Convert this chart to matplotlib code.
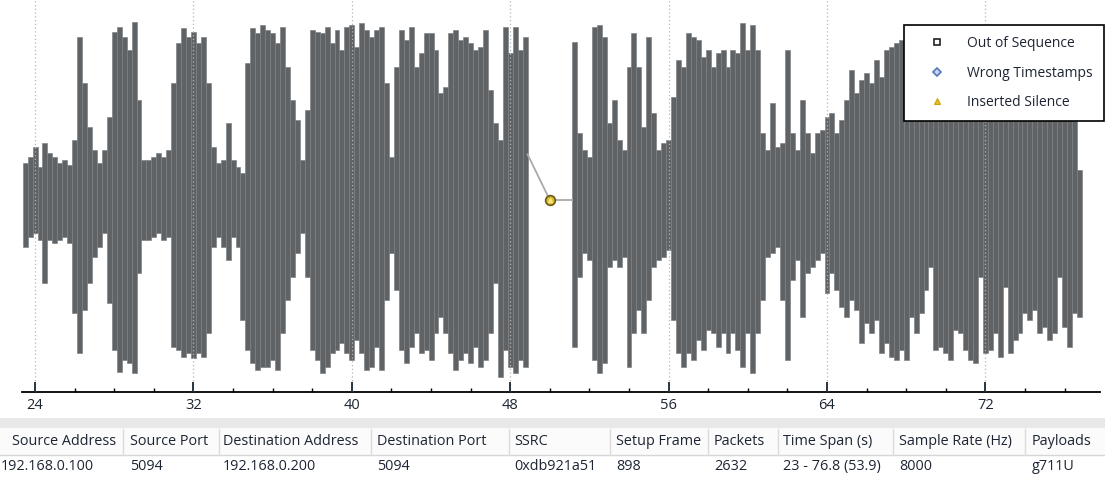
import matplotlib
matplotlib.use("Agg")
import matplotlib.pyplot as plt
from matplotlib.lines import Line2D
from matplotlib.patches import Rectangle
import numpy as np

plt.rcParams['font.family'] = ['Open Sans', 'DejaVu Sans']

# waveform envelope, one value every 0.25 s (amplitude above / below centre)
step = 0.25
seg1_start = 23.5
seg1_top = [37, 43, 53, 33, 57, 47, 43, 37, 40, 35,
            60, 163, 117, 73, 50, 37, 50, 83, 168, 173,
            163, 150, 178, 100, 40, 40, 43, 47, 43, 50,
            117, 157, 172, 163, 168, 157,
            163, 117, 53, 37, 40, 77, 40, 33, 27, 137,
            172, 167, 175, 170, 167, 157, 173, 133, 100, 80,
            40, 90, 170, 168, 167, 173, 157, 170, 150, 173,
            175, 153, 177, 170, 163,
            170, 173, 117, 43, 133, 170, 160, 173, 133, 147,
            167, 167, 150, 107, 113, 167, 170, 160, 163, 157,
            150, 153, 170, 110, 77, 60, 173, 147, 173, 150,
            163]
seg1_bottom = [47, 37, 33, 40, 83, 40, 43, 40, 37, 43,
               113, 153, 110, 83, 57, 47, 33, 103, 150, 172,
               160, 163, 173, 73, 40, 40, 37, 33, 40, 37,
               147, 150, 157, 153, 158, 153,
               157, 133, 47, 37, 47, 60, 37, 47, 120, 150,
               163, 170, 167, 167, 160, 170, 133, 100, 77, 53,
               33, 77, 150, 160, 173, 167, 153, 150, 143, 153,
               160, 140, 153, 170, 167,
               147, 170, 100, 53, 90, 150, 163, 147, 133, 153,
               150, 160, 133, 117, 133, 153, 170, 160, 153, 163,
               147, 167, 160, 133, 83, 177, 150, 167, 173, 160,
               167]

seg2_start = 51.25
seg2_top = [158, 67, 50, 43, 173, 175, 163, 77, 100, 60,
            50, 133, 167, 133, 73, 163, 87, 50, 57, 60,
            103, 140, 133, 167, 163, 160, 143, 150, 133, 147,
            150, 133, 150, 147,
            177, 150, 175, 150, 67, 50, 97, 53, 57, 150,
            67, 50, 100, 67, 47, 67, 70, 83, 87, 67,
            80, 100, 130, 107, 120, 127, 117, 140, 123, 150,
            153, 157, 160, 150,
            150, 160, 145, 170, 155, 165, 150, 175, 160, 170,
            150, 165, 155, 160, 150, 165, 175, 170, 160, 155,
            165, 150, 160, 145, 155, 150, 160, 140, 150, 145,
            155, 140, 135, 130, 30]
seg2_bottom = [147, 77, 53, 60, 160, 173, 163, 67, 60, 67,
               57, 167, 133, 110, 133, 100, 67, 60, 57, 50,
               120, 153, 167, 153, 160, 140, 150, 130, 133, 147,
               133, 153, 133, 150,
               167, 133, 173, 133, 100, 57, 53, 47, 100, 160,
               80, 60, 117, 73, 67, 60, 53, 93, 73, 90,
               107, 117, 100, 110, 143, 123, 133, 120, 153, 143,
               157, 160, 150, 160,
               117, 133, 113, 90, 67, 150, 147, 153, 160, 130,
               133, 150, 160, 163, 77, 153, 150, 133, 157, 87,
               153, 140, 133, 113, 120, 110, 133, 127, 140, 133,
               77, 127, 147, 113, 117]

silence_t = 50.0
major_ticks = [24, 32, 40, 48, 56, 64, 72]

legend_labels = ["Out of Sequence", "Wrong Timestamps", "Inserted Silence"]

columns = ["Source Address", "Source Port", "Destination Address", "Destination Port",
           "SSRC", "Setup Frame", "Packets", "Time Span (s)", "Sample Rate (Hz)", "Payloads"]
row = ["192.168.0.100", "5094", "192.168.0.200", "5094", "0xdb921a51",
       "898", "2632", "23 - 76.8 (53.9)", "8000", "g711U"]

W, H = 1105, 482
fig = plt.figure(figsize=(W / 100, H / 100), dpi=100)
ax = fig.add_axes([22 / W, (H - 392) / H, (1100 - 22) / W, 392 / H])

wave = '#5f6365'
for start, top, bot in [(seg1_start, seg1_top, seg1_bottom),
                        (seg2_start, seg2_top, seg2_bottom)]:
    top = np.array(top)
    bot = np.array(bot)
    t = start + step * np.arange(len(top))
    ax.bar(t, top + bot, bottom=-bot, width=step, color=wave,
           edgecolor='#7c8083', linewidth=0.45)

# inserted silence
seg1_end = seg1_start + step * (len(seg1_top) - 0.5)
seg2_begin = seg2_start - step / 2
ax.plot([seg1_end, silence_t, seg2_begin], [seg1_top[-1] * 0.28, 0, 0],
        color='#aaaaaa', lw=1.3, zorder=1.5)
ax.plot(silence_t, 0, marker='o', ms=7, mfc='#d9b82c', mec='#6b5a14', mew=1.2, zorder=4)
ax.plot(silence_t, 0, marker='^', ms=3, mfc='#f4e27a', mec='#f4e27a', zorder=5)

ax.set_xlim(23.34, 77.79)
ax.set_ylim(-192, 200)
ax.set_yticks([])
for s in ['top', 'left', 'right']:
    ax.spines[s].set_visible(False)
ax.spines['bottom'].set_linewidth(1.3)
ax.set_xticks(major_ticks)
ax.set_xticks(np.arange(24, 78, 2), minor=True)
ax.tick_params(axis='x', which='major', direction='in', length=7, width=1.3,
               labelsize=10.5, pad=4, colors='#1d2433')
ax.tick_params(axis='x', which='minor', direction='in', length=3, width=1)
ax.grid(axis='x', which='major', linestyle=(0, (1, 2)), color='#b5b5b5', lw=0.9)
ax.set_axisbelow(False)

handles = [
    Line2D([], [], ls='none', marker='s', ms=5, mfc='white', mec='#222222', mew=1.2),
    Line2D([], [], ls='none', marker='D', ms=4.5, mfc='#c9d6ee', mec='#5577bb', mew=1.2),
    Line2D([], [], ls='none', marker='^', ms=5, mfc='#e2c024', mec='#c9a50f', mew=0.8),
]
leg = ax.legend(handles, legend_labels, loc='upper left',
                bbox_to_anchor=(904 / W, 1 - 25 / H), bbox_transform=fig.transFigure,
                frameon=True, fancybox=False, edgecolor='black', framealpha=1,
                fontsize=10, borderpad=0.8, labelspacing=1.05, handlelength=3.1,
                handletextpad=0.65, borderaxespad=0)
leg.get_frame().set_linewidth(1.2)
for txt in leg.get_texts():
    txt.set_color('#1d2433')

# table below the plot, drawn in pixel coordinates
tab = fig.add_axes([0, 0, 1, 90 / H])
tab.set_xlim(0, W)
tab.set_ylim(482, 392)
tab.axis('off')
tab.add_patch(Rectangle((0, 418), W, 10, color='#e8e8e8', lw=0))
tab.add_patch(Rectangle((0, 428), W, 27, color='#fbfbfb', lw=0))
tab.plot([0, W], [455.5, 455.5], color='#d6d6d6', lw=1)
col_x = [12, 130, 223, 377, 514, 616, 714, 783, 899, 1032]
row_x = [1, 130, 223, 377, 514, 616, 714, 783, 899, 1032]
for sx in [123, 219, 371, 509, 610, 708, 778, 893, 1025]:
    tab.plot([sx, sx], [429, 455], color='#dcdcdc', lw=1)
for x, name in zip(col_x, columns):
    tab.text(x, 442, name, ha='left', va='center', fontsize=10.4, color='#1d2433')
for x, val in zip(row_x, row):
    tab.text(x, 467, val, ha='left', va='center', fontsize=10.4, color='#1d2433')

fig.savefig("out.png", dpi=100)
